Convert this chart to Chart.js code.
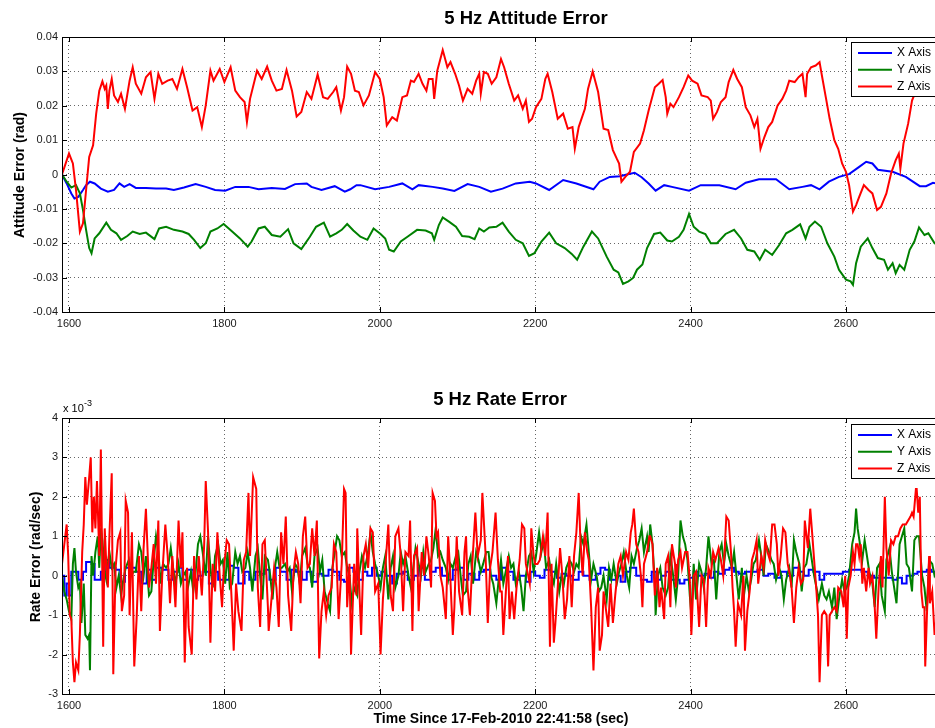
<!DOCTYPE html>
<html>
<head>
<meta charset="utf-8">
<script src="https://cdn.jsdelivr.net/npm/chart.js@4.4.0/dist/chart.umd.min.js"></script>
<style>
  html, body { margin: 0; padding: 0; background: #fff; overflow: hidden; width: 935px; height: 728px; }
  .box { position: absolute; left: 0; }
</style>
</head>
<body>
<div class="box" style="top:0"><canvas id="att" width="945" height="345"></canvas></div>
<div class="box" style="top:370px"><canvas id="rate" width="945" height="358"></canvas></div>
<script>
// x ticks shared by both plots
const timeTicks = [1600, 1800, 2000, 2200, 2400, 2600];

// top plot: attitude error (rad), [time, value]
const attX = [[1591,0],[1597,-0.0026],[1603,-0.0055],[1607,-0.0070],[1612,-0.0065],[1618,-0.0045],[1622,-0.0031],[1627,-0.0021],[1633,-0.0026],[1641,-0.0041],[1650,-0.0050],[1658,-0.0045],[1665,-0.0026],[1671,-0.0036],[1678,-0.0028],[1686,-0.0039],[1699,-0.0039],[1712,-0.0041],[1725,-0.0041],[1735,-0.0045],[1748,-0.0038],[1763,-0.0028],[1776,-0.0036],[1788,-0.0045],[1801,-0.0047],[1814,-0.0036],[1831,-0.0036],[1844,-0.0043],[1861,-0.0039],[1878,-0.0042],[1891,-0.0028],[1906,-0.0026],[1912,-0.0036],[1925,-0.0045],[1942,-0.0034],[1955,-0.0050],[1962,-0.0043],[1970,-0.0031],[1975,-0.0031],[1994,-0.0043],[2012,-0.0036],[2029,-0.0026],[2042,-0.0043],[2050,-0.0031],[2068,-0.0036],[2081,-0.0041],[2096,-0.0048],[2113,-0.0028],[2128,-0.0036],[2143,-0.0050],[2158,-0.0041],[2175,-0.0026],[2193,-0.0021],[2201,-0.0026],[2218,-0.0045],[2236,-0.0016],[2253,-0.0026],[2275,-0.0043],[2283,-0.0021],[2296,-0.0007],[2309,-0.0005],[2318,0.0000],[2328,0.0005],[2337,-0.0008],[2346,-0.0026],[2355,-0.0047],[2366,-0.0031],[2376,-0.0036],[2398,-0.0047],[2413,-0.0031],[2437,-0.0031],[2458,-0.0043],[2471,-0.0024],[2488,-0.0014],[2510,-0.0014],[2527,-0.0043],[2544,-0.0036],[2555,-0.0031],[2566,-0.0043],[2578,-0.0021],[2591,-0.0007],[2604,0.0001],[2617,0.0022],[2626,0.0037],[2634,0.0032],[2641,0.0014],[2660,0.0008],[2677,-0.0007],[2695,-0.0034],[2703,-0.0034],[2712,-0.0024],[2720,-0.0028]];
const attY = [[1591,0],[1597,-0.0021],[1603,-0.0038],[1609,-0.0031],[1614,-0.0055],[1618,-0.0103],[1622,-0.0161],[1626,-0.0214],[1629,-0.0229],[1633,-0.0186],[1639,-0.0171],[1648,-0.0140],[1654,-0.0161],[1661,-0.0171],[1667,-0.0190],[1675,-0.0179],[1682,-0.0166],[1691,-0.0173],[1699,-0.0169],[1710,-0.0188],[1716,-0.0157],[1725,-0.0152],[1735,-0.0161],[1746,-0.0166],[1754,-0.0173],[1761,-0.0190],[1769,-0.0214],[1776,-0.0200],[1782,-0.0166],[1791,-0.0157],[1799,-0.0144],[1810,-0.0166],[1820,-0.0186],[1830,-0.0210],[1835,-0.0195],[1844,-0.0157],[1852,-0.0152],[1861,-0.0176],[1872,-0.0181],[1882,-0.0159],[1889,-0.0200],[1899,-0.0217],[1910,-0.0181],[1918,-0.0152],[1928,-0.0140],[1936,-0.0181],[1944,-0.0171],[1951,-0.0161],[1958,-0.0144],[1966,-0.0163],[1975,-0.0181],[1984,-0.0190],[1992,-0.0157],[2001,-0.0173],[2007,-0.0186],[2012,-0.0219],[2018,-0.0224],[2027,-0.0195],[2037,-0.0179],[2048,-0.0161],[2059,-0.0163],[2067,-0.0171],[2070,-0.0190],[2076,-0.0147],[2081,-0.0125],[2089,-0.0137],[2098,-0.0152],[2106,-0.0179],[2115,-0.0181],[2122,-0.0188],[2128,-0.0157],[2134,-0.0166],[2141,-0.0154],[2150,-0.0152],[2158,-0.0140],[2166,-0.0166],[2175,-0.0190],[2184,-0.0200],[2192,-0.0237],[2199,-0.0229],[2208,-0.0195],[2218,-0.0169],[2227,-0.0200],[2238,-0.0214],[2247,-0.0231],[2254,-0.0248],[2262,-0.0210],[2273,-0.0166],[2281,-0.0186],[2292,-0.0239],[2301,-0.0277],[2307,-0.0285],[2313,-0.0318],[2320,-0.0311],[2326,-0.0301],[2331,-0.0277],[2338,-0.0262],[2344,-0.0214],[2353,-0.0173],[2361,-0.0169],[2370,-0.0192],[2376,-0.0195],[2385,-0.0181],[2391,-0.0161],[2398,-0.0115],[2404,-0.0152],[2411,-0.0166],[2419,-0.0173],[2426,-0.0200],[2434,-0.0200],[2445,-0.0173],[2456,-0.0161],[2465,-0.0186],[2473,-0.0219],[2482,-0.0224],[2489,-0.0248],[2496,-0.0219],[2505,-0.0234],[2514,-0.0205],[2523,-0.0171],[2531,-0.0161],[2541,-0.0145],[2548,-0.0186],[2553,-0.0152],[2560,-0.0137],[2568,-0.0152],[2576,-0.0200],[2585,-0.0239],[2591,-0.0277],[2600,-0.0306],[2606,-0.0311],[2609,-0.0321],[2613,-0.0258],[2619,-0.0210],[2628,-0.0186],[2634,-0.0214],[2641,-0.0243],[2649,-0.0248],[2654,-0.0277],[2660,-0.0258],[2664,-0.0287],[2669,-0.0263],[2675,-0.0277],[2682,-0.0219],[2688,-0.0195],[2694,-0.0154],[2701,-0.0176],[2706,-0.0171],[2714,-0.0200],[2720,-0.0195]];
const attZ = [[1591,0],[1600,0.0061],[1605,0.0032],[1609,-0.0045],[1614,-0.0166],[1618,-0.0142],[1622,-0.0045],[1626,0.0051],[1631,0.0085],[1635,0.0177],[1639,0.0244],[1643,0.0271],[1646,0.0249],[1648,0.0259],[1650,0.0191],[1652,0.0244],[1655,0.0278],[1658,0.0230],[1663,0.0211],[1667,0.0235],[1672,0.0191],[1678,0.0273],[1682,0.0312],[1686,0.0264],[1693,0.0235],[1699,0.0283],[1705,0.0298],[1710,0.0220],[1715,0.0293],[1720,0.0264],[1727,0.0273],[1733,0.0278],[1739,0.0249],[1746,0.0307],[1752,0.0254],[1759,0.0186],[1765,0.0196],[1771,0.0138],[1776,0.0201],[1782,0.0302],[1786,0.0273],[1794,0.0307],[1800,0.0269],[1808,0.0312],[1814,0.0244],[1820,0.0225],[1826,0.0211],[1829,0.0153],[1833,0.0220],[1842,0.0302],[1848,0.0278],[1855,0.0314],[1861,0.0273],[1867,0.0244],[1874,0.0249],[1880,0.0304],[1887,0.0244],[1893,0.0169],[1899,0.0182],[1906,0.0240],[1912,0.0220],[1920,0.0291],[1927,0.0225],[1933,0.0220],[1940,0.0240],[1944,0.0254],[1950,0.0186],[1954,0.0225],[1958,0.0314],[1963,0.0293],[1968,0.0244],[1973,0.0240],[1979,0.0201],[1986,0.0230],[1994,0.0298],[2000,0.0278],[2005,0.0225],[2009,0.0143],[2016,0.0167],[2022,0.0157],[2029,0.0225],[2035,0.0230],[2040,0.0273],[2044,0.0269],[2050,0.0293],[2055,0.0264],[2060,0.0244],[2063,0.0278],[2068,0.0278],[2070,0.0220],[2074,0.0302],[2081,0.0362],[2087,0.0312],[2091,0.0327],[2097,0.0293],[2102,0.0259],[2107,0.0215],[2113,0.0249],[2119,0.0235],[2124,0.0273],[2128,0.0293],[2130,0.0235],[2134,0.0298],[2139,0.0293],[2144,0.0264],[2150,0.0283],[2156,0.0336],[2160,0.0312],[2166,0.0264],[2173,0.0215],[2178,0.0230],[2184,0.0191],[2188,0.0215],[2192,0.0153],[2196,0.0162],[2201,0.0196],[2208,0.0220],[2213,0.0278],[2216,0.0293],[2222,0.0240],[2229,0.0162],[2236,0.0177],[2242,0.0133],[2248,0.0138],[2251,0.0075],[2256,0.0138],[2264,0.0191],[2268,0.0249],[2274,0.0300],[2281,0.0240],[2288,0.0133],[2294,0.0129],[2300,0.0071],[2305,0.0046],[2308,0.0032],[2311,-0.0021],[2316,-0.0007],[2322,0.0008],[2327,0.0066],[2335,0.0090],[2340,0.0129],[2346,0.0186],[2354,0.0254],[2359,0.0264],[2364,0.0275],[2368,0.0225],[2370,0.0177],[2374,0.0206],[2378,0.0196],[2385,0.0225],[2391,0.0254],[2397,0.0288],[2402,0.0273],[2409,0.0264],[2414,0.0230],[2422,0.0225],[2426,0.0215],[2429,0.0162],[2434,0.0182],[2439,0.0211],[2445,0.0225],[2449,0.0269],[2455,0.0304],[2460,0.0278],[2466,0.0254],[2471,0.0196],[2477,0.0172],[2482,0.0138],[2486,0.0162],[2490,0.0075],[2495,0.0109],[2500,0.0138],[2505,0.0153],[2512,0.0201],[2518,0.0220],[2523,0.0244],[2527,0.0273],[2534,0.0269],[2539,0.0283],[2544,0.0293],[2548,0.0225],[2550,0.0293],[2555,0.0312],[2561,0.0317],[2566,0.0327],[2569,0.0288],[2574,0.0225],[2579,0.0162],[2585,0.0100],[2590,0.0075],[2595,0.0032],[2600,0.0008],[2604,-0.0031],[2609,-0.0108],[2613,-0.0089],[2617,-0.0065],[2623,-0.0031],[2629,-0.0045],[2634,-0.0055],[2640,-0.0103],[2645,-0.0094],[2652,-0.0055],[2658,0.0003],[2664,0.0042],[2668,0.0061],[2670,0.0017],[2674,0.0090],[2680,0.0148],[2685,0.0215],[2690,0.0244],[2698,0.0280],[2706,0.0300],[2712,0.0285],[2716,0.0220],[2720,0.0196]];

// bottom plot: rate error (x 10^-3 rad/sec), [time, value]
const rateX = [[1591,0.0],[1594,-0.5],[1597,-0.2],[1600,-0.5],[1603,0.1],[1607,0.1],[1612,-0.1],[1618,0.1],[1622,0.35],[1629,0.3],[1633,-0.1],[1637,-0.1],[1641,0.1],[1648,0.4],[1652,0.2],[1660,0.15],[1666,-0.15],[1672,0.2],[1680,0.2],[1686,0.1],[1693,-0.2],[1700,0.15],[1706,-0.1],[1712,0.2],[1720,0.15],[1728,-0.1],[1734,0.1],[1740,0.2],[1746,-0.1],[1752,0.15],[1760,-0.1],[1766,0.0],[1772,0.1],[1780,-0.2],[1786,0.1],[1792,-0.1],[1800,-0.1],[1806,0.25],[1812,0.2],[1818,-0.2],[1826,0.1],[1832,-0.1],[1840,0.1],[1846,0.05],[1852,0.15],[1858,-0.1],[1866,0.2],[1872,0.1],[1880,-0.1],[1886,0.15],[1892,0.1],[1900,-0.1],[1906,0.1],[1912,-0.15],[1920,0.05],[1926,0.0],[1934,0.15],[1940,0.1],[1948,-0.1],[1954,-0.15],[1960,0.2],[1966,0.1],[1972,-0.1],[1978,0.1],[1984,0.0],[1990,0.2],[1996,0.0],[2002,0.1],[2008,0.0],[2016,-0.2],[2022,0.05],[2030,0.1],[2036,-0.1],[2044,0.0],[2050,0.2],[2058,-0.1],[2066,0.1],[2072,0.2],[2080,0.0],[2088,-0.1],[2094,0.15],[2100,0.2],[2108,-0.1],[2114,0.05],[2122,-0.1],[2128,0.1],[2134,0.15],[2142,0.0],[2150,-0.1],[2156,0.2],[2164,0.1],[2172,-0.1],[2180,0.0],[2188,-0.15],[2194,0.1],[2200,0.0],[2206,-0.05],[2212,0.15],[2220,0.1],[2228,-0.05],[2234,0.05],[2240,0.0],[2248,-0.1],[2256,0.1],[2262,0.0],[2270,-0.1],[2278,0.05],[2284,0.2],[2290,0.15],[2296,-0.1],[2304,0.0],[2310,-0.15],[2316,0.1],[2322,0.2],[2330,0.0],[2336,-0.1],[2344,-0.15],[2350,0.1],[2356,-0.1],[2362,0.0],[2368,0.1],[2374,-0.1],[2380,-0.1],[2386,-0.2],[2392,-0.1],[2398,-0.05],[2404,0.1],[2410,0.0],[2418,0.05],[2424,-0.05],[2430,0.1],[2436,0.05],[2444,0.15],[2450,0.2],[2456,0.1],[2462,0.05],[2470,0.1],[2478,0.1],[2486,0.15],[2494,0.0],[2500,0.05],[2508,-0.05],[2516,0.1],[2524,0.0],[2532,0.2],[2540,0.1],[2546,0.0],[2552,0.15],[2558,0.1],[2566,-0.1],[2572,0.05],[2580,0.05],[2588,0.05],[2596,0.1],[2604,0.15],[2612,0.15],[2620,0.1],[2628,0.0],[2636,-0.05],[2644,-0.05],[2652,-0.05],[2660,-0.1],[2666,-0.05],[2672,-0.2],[2678,0.0],[2686,0.05],[2692,0.1],[2698,0.1],[2704,0.15],[2710,0.1],[2720,0.1]];
const rateY = [[1591,0.0],[1594,-0.4],[1597,-0.6],[1600,-0.9],[1603,-1.1],[1605,0.3],[1607,0.7],[1609,0.1],[1612,-0.3],[1614,-0.2],[1616,-1.2],[1619,-0.2],[1621,-1.5],[1624,-1.6],[1626,-1.5],[1627,-2.4],[1629,0.5],[1631,0.0],[1634,0.6],[1637,1.0],[1639,0.2],[1641,1.2],[1643,0.9],[1646,0.1],[1648,-0.1],[1650,0.3],[1652,0.6],[1655,0.2],[1658,0.3],[1661,-0.3],[1664,0.0],[1667,-0.5],[1670,-0.1],[1673,0.2],[1677,0.4],[1680,0.0],[1683,0.1],[1686,0.1],[1690,0.8],[1693,0.6],[1696,0.0],[1699,0.5],[1703,-0.5],[1706,-0.4],[1709,0.4],[1712,1.0],[1715,0.6],[1718,-0.2],[1721,0.3],[1725,0.2],[1728,0.3],[1731,0.7],[1734,0.2],[1737,-0.2],[1741,0.3],[1744,-0.2],[1747,0.0],[1750,0.1],[1753,-0.3],[1757,0.1],[1760,-0.4],[1763,0.1],[1766,0.8],[1769,1.0],[1772,0.6],[1776,0.0],[1779,1.0],[1782,0.2],[1785,-0.3],[1788,0.5],[1792,0.8],[1795,0.3],[1798,0.4],[1801,-0.2],[1804,0.6],[1807,-0.3],[1810,-0.2],[1814,0.6],[1817,0.3],[1820,0.5],[1823,0.1],[1827,0.2],[1830,0.6],[1833,0.2],[1836,-0.4],[1840,0.5],[1843,0.7],[1846,0.0],[1849,-0.6],[1852,0.5],[1856,0.4],[1859,0.0],[1862,-0.6],[1865,0.2],[1868,0.6],[1871,0.2],[1874,0.2],[1878,0.3],[1881,0.1],[1884,0.2],[1887,-0.4],[1891,0.3],[1894,0.2],[1897,-0.2],[1900,0.5],[1904,0.7],[1907,0.3],[1910,0.2],[1913,-0.3],[1916,0.5],[1920,0.7],[1923,0.1],[1926,0.4],[1929,-0.4],[1933,-0.7],[1936,-0.9],[1939,0.2],[1942,0.6],[1945,1.0],[1948,0.9],[1951,0.5],[1955,0.6],[1958,0.2],[1961,0.0],[1964,-0.7],[1967,-0.3],[1971,-0.5],[1973,0.0],[1977,0.5],[1981,0.2],[1985,0.6],[1988,1.1],[1991,0.6],[1994,0.3],[1998,0.0],[2001,-0.3],[2004,0.2],[2007,0.5],[2011,-0.6],[2014,0.2],[2017,0.5],[2020,-0.3],[2024,0.0],[2027,0.6],[2030,0.3],[2033,0.5],[2037,0.0],[2040,-0.3],[2043,0.2],[2046,0.7],[2050,0.3],[2053,0.0],[2056,0.6],[2059,0.1],[2063,0.3],[2066,0.4],[2069,0.7],[2072,1.2],[2075,0.5],[2078,0.6],[2081,0.4],[2085,0.2],[2088,-0.1],[2091,0.3],[2094,0.2],[2098,0.5],[2101,0.6],[2104,0.0],[2107,-0.5],[2111,-0.4],[2114,0.3],[2117,0.5],[2120,-0.2],[2124,0.6],[2127,0.4],[2130,0.1],[2133,0.3],[2137,0.6],[2140,0.6],[2143,0.0],[2146,-0.2],[2150,-0.7],[2153,-0.1],[2156,0.4],[2159,-0.2],[2163,0.2],[2166,0.5],[2169,0.2],[2172,0.3],[2175,-0.2],[2179,0.1],[2182,-0.3],[2185,-0.9],[2188,0.0],[2192,0.5],[2195,0.6],[2198,0.1],[2201,0.5],[2205,1.1],[2208,0.6],[2211,0.9],[2214,0.2],[2218,0.4],[2221,0.0],[2224,-0.2],[2227,0.3],[2231,-0.4],[2234,0.0],[2237,-0.2],[2240,0.2],[2244,0.4],[2247,0.3],[2250,0.1],[2253,0.3],[2256,0.2],[2259,1.0],[2262,0.8],[2266,1.3],[2269,0.6],[2272,-0.1],[2275,0.3],[2279,0.0],[2282,-0.4],[2285,-0.3],[2288,0.0],[2292,-0.6],[2295,0.2],[2298,-0.1],[2301,0.3],[2305,-0.2],[2308,0.1],[2311,0.3],[2314,0.6],[2318,0.0],[2321,-0.3],[2324,0.5],[2327,0.3],[2331,0.7],[2334,0.9],[2337,1.2],[2340,0.6],[2344,1.0],[2346,0.6],[2348,1.3],[2351,0.8],[2354,-0.2],[2355,-1.0],[2358,0.0],[2361,0.2],[2364,-0.3],[2368,-0.5],[2371,-0.3],[2374,0.5],[2377,0.1],[2381,-0.6],[2384,0.0],[2387,1.4],[2390,1.0],[2393,0.8],[2396,0.4],[2399,-0.5],[2401,-1.0],[2404,0.3],[2407,-0.6],[2411,0.3],[2414,0.1],[2417,-0.3],[2420,0.2],[2423,1.0],[2427,0.3],[2430,0.4],[2433,-0.6],[2437,0.6],[2440,0.8],[2443,0.3],[2446,0.8],[2449,0.5],[2453,0.2],[2456,0.6],[2459,0.0],[2462,-0.6],[2466,0.2],[2468,-0.6],[2472,0.0],[2475,-0.4],[2478,-0.1],[2481,0.3],[2484,0.4],[2488,0.9],[2491,0.5],[2494,0.0],[2497,0.8],[2501,0.6],[2504,0.4],[2507,0.3],[2510,-0.1],[2514,0.2],[2517,0.0],[2520,-0.6],[2523,-0.1],[2527,0.2],[2530,-0.3],[2533,0.9],[2536,0.6],[2540,0.3],[2543,-0.4],[2546,0.2],[2549,0.3],[2553,0.8],[2556,0.4],[2559,0.0],[2562,-0.3],[2565,-0.6],[2569,-0.2],[2572,-0.5],[2575,-0.6],[2578,-0.4],[2582,-0.8],[2585,-0.3],[2588,-1.1],[2591,-0.6],[2595,-0.1],[2598,-0.4],[2601,-0.3],[2604,0.0],[2608,0.8],[2611,1.1],[2613,1.7],[2615,1.2],[2618,0.8],[2621,0.4],[2624,0.9],[2627,0.5],[2630,0.1],[2634,-0.2],[2637,-0.8],[2640,0.2],[2643,0.3],[2646,-0.5],[2650,-0.9],[2652,0.4],[2656,0.7],[2659,0.1],[2662,-0.3],[2665,-0.7],[2669,0.8],[2672,1.0],[2675,1.2],[2678,0.3],[2681,0.2],[2685,-0.4],[2688,0.9],[2691,1.0],[2694,1.0],[2698,0.0],[2701,-0.3],[2704,-0.9],[2707,0.4],[2711,0.3],[2714,0.0],[2720,0.2]];
const rateZ = [[1591,0.3],[1594,0.8],[1597,1.3],[1599,0.5],[1601,-1.0],[1603,-1.1],[1605,-2.2],[1607,-2.7],[1609,-2.2],[1612,-2.4],[1614,-1.5],[1617,0.6],[1619,1.3],[1621,2.5],[1623,1.8],[1626,2.5],[1628,3.0],[1630,1.1],[1632,2.0],[1634,1.2],[1636,2.4],[1639,0.5],[1641,3.2],[1644,-1.8],[1646,1.2],[1648,0.3],[1650,-0.3],[1652,1.0],[1655,2.6],[1657,-2.5],[1660,0.2],[1663,0.9],[1666,1.1],[1668,-0.9],[1671,-0.5],[1673,1.9],[1676,1.6],[1678,-1.0],[1681,1.1],[1684,-2.3],[1687,-1.1],[1690,0.5],[1693,-0.9],[1696,0.7],[1699,1.7],[1703,-0.3],[1706,0.2],[1709,0.8],[1712,-0.2],[1715,1.4],[1717,-1.4],[1720,0.0],[1724,1.3],[1727,0.5],[1730,-0.7],[1733,0.5],[1737,-0.8],[1741,1.4],[1744,0.2],[1746,1.1],[1749,-2.2],[1752,0.2],[1754,-1.3],[1758,-2.0],[1761,0.5],[1764,-0.6],[1767,0.5],[1771,-0.5],[1774,0.8],[1776,2.4],[1779,1.1],[1782,-1.7],[1785,0.3],[1788,-0.4],[1791,1.1],[1794,0.0],[1797,-0.8],[1799,0.1],[1803,0.9],[1806,0.8],[1810,-0.9],[1812,-1.9],[1815,-0.2],[1818,-0.9],[1822,-1.4],[1825,0.4],[1828,0.6],[1831,2.1],[1833,0.5],[1837,2.5],[1841,2.2],[1843,-0.3],[1846,-1.3],[1849,0.8],[1852,0.9],[1856,-0.8],[1857,-1.4],[1861,-0.5],[1864,0.2],[1867,-0.3],[1870,-1.3],[1873,1.1],[1876,0.3],[1879,1.5],[1882,-0.5],[1886,-1.4],[1889,0.1],[1892,0.6],[1895,0.3],[1898,-0.7],[1901,1.0],[1904,1.5],[1907,0.2],[1910,0.3],[1913,1.2],[1916,0.5],[1919,1.4],[1922,-2.1],[1925,-0.9],[1928,-0.4],[1931,-1.0],[1934,-0.5],[1938,-0.3],[1941,0.8],[1944,0.6],[1947,-1.1],[1951,0.3],[1954,2.2],[1956,2.1],[1958,-0.8],[1961,0.3],[1963,-2.0],[1967,0.3],[1970,-0.5],[1971,1.2],[1974,-0.5],[1976,-1.5],[1979,0.5],[1982,0.8],[1985,0.2],[1988,1.2],[1991,1.1],[1994,-0.4],[1998,-0.2],[2001,-2.0],[2004,-0.6],[2007,0.2],[2011,1.3],[2014,-0.5],[2017,-0.9],[2020,1.0],[2024,1.2],[2027,0.5],[2030,-0.9],[2033,0.6],[2037,0.5],[2039,1.4],[2042,-1.4],[2044,0.5],[2048,0.7],[2050,-0.9],[2054,0.6],[2057,0.0],[2060,1.0],[2063,0.5],[2066,-0.3],[2068,2.1],[2071,1.9],[2073,1.0],[2075,1.1],[2078,0.0],[2081,-0.3],[2085,-1.1],[2088,1.0],[2090,0.3],[2094,-1.5],[2096,-0.8],[2099,1.0],[2102,-0.4],[2106,-1.0],[2109,0.6],[2111,1.0],[2113,-0.3],[2116,-1.0],[2119,0.3],[2123,1.6],[2126,0.5],[2128,0.7],[2130,0.9],[2132,2.1],[2136,0.6],[2139,-1.2],[2142,0.2],[2145,0.6],[2149,1.6],[2152,0.4],[2155,-0.4],[2157,-0.4],[2159,-1.5],[2162,-0.5],[2165,0.5],[2167,-1.1],[2170,-0.4],[2173,-1.1],[2176,-0.3],[2180,0.4],[2183,1.3],[2186,1.2],[2188,0.3],[2193,-0.2],[2195,1.2],[2198,0.5],[2200,0.3],[2203,0.3],[2206,0.4],[2210,1.0],[2213,0.5],[2216,1.6],[2219,-1.8],[2221,0.3],[2224,-1.7],[2226,-1.2],[2229,-0.3],[2232,0.7],[2235,0.0],[2238,-1.1],[2241,-0.6],[2244,0.5],[2247,-0.8],[2250,0.5],[2253,1.1],[2256,2.1],[2258,1.0],[2261,0.0],[2264,1.1],[2267,0.6],[2269,0.4],[2272,-0.8],[2275,-2.4],[2278,-0.8],[2281,-0.3],[2283,-1.9],[2286,-1.5],[2288,-0.4],[2292,-1.0],[2294,-1.3],[2297,-0.2],[2300,-1.2],[2303,-0.5],[2307,0.3],[2310,0.5],[2313,0.0],[2317,0.6],[2320,0.4],[2323,1.1],[2325,1.3],[2327,1.7],[2330,0.8],[2333,0.6],[2336,0.0],[2338,-0.8],[2340,0.3],[2344,0.6],[2347,1.0],[2348,1.0],[2351,0.8],[2354,-0.5],[2357,0.2],[2360,-0.8],[2362,-0.3],[2366,-1.1],[2368,0.3],[2371,0.5],[2374,-0.8],[2376,0.8],[2380,0.3],[2381,-0.3],[2384,0.4],[2387,0.6],[2389,0.2],[2393,0.6],[2396,0.6],[2399,-0.1],[2401,-1.5],[2404,0.0],[2407,0.1],[2411,-1.3],[2414,0.0],[2417,-0.1],[2420,-1.3],[2423,0.2],[2426,0.0],[2429,0.6],[2432,0.4],[2436,0.7],[2439,0.4],[2442,0.0],[2444,0.7],[2446,1.5],[2449,1.4],[2452,0.6],[2454,-0.3],[2456,-0.9],[2458,-1.8],[2461,-0.7],[2465,-1.0],[2468,0.0],[2470,-1.9],[2473,-0.9],[2476,-0.4],[2479,0.4],[2482,0.6],[2485,0.9],[2487,-0.2],[2491,0.5],[2494,0.2],[2496,0.9],[2499,0.6],[2502,0.4],[2505,1.3],[2508,1.3],[2511,0.8],[2513,0.0],[2516,0.5],[2519,1.2],[2522,1.1],[2525,0.3],[2528,0.0],[2530,-0.3],[2533,-1.2],[2536,-0.3],[2539,0.2],[2542,-0.2],[2545,-0.1],[2547,1.4],[2551,0.7],[2554,1.7],[2556,1.2],[2559,0.4],[2562,-0.4],[2564,-1.0],[2566,-2.7],[2569,-1.0],[2572,-0.9],[2575,-1.0],[2577,-2.3],[2579,-1.0],[2582,-0.9],[2585,-0.8],[2588,-0.9],[2590,-0.3],[2594,-0.4],[2597,-0.8],[2599,0.0],[2601,-1.6],[2603,-0.3],[2606,0.0],[2609,0.6],[2611,0.3],[2613,0.8],[2615,0.8],[2617,0.5],[2619,0.8],[2621,-0.2],[2623,0.2],[2626,-0.4],[2629,0.2],[2631,-0.2],[2634,0.0],[2637,-0.8],[2639,-1.6],[2642,-0.3],[2645,0.5],[2647,-0.3],[2650,2.0],[2652,0.7],[2655,0.0],[2658,0.9],[2661,0.8],[2664,1.0],[2667,1.0],[2670,1.2],[2673,1.3],[2677,1.3],[2680,1.4],[2683,1.5],[2685,1.6],[2687,1.5],[2690,2.2],[2691,2.2],[2693,1.6],[2695,2.0],[2697,-0.4],[2699,-0.8],[2701,-0.8],[2702,-2.3],[2704,-1.1],[2707,0.5],[2708,-0.7],[2711,-0.4],[2714,-1.5],[2718,-0.8],[2721,-1.4]];

const seriesNames = ['X Axis', 'Y Axis', 'Z Axis'];
const seriesColors = ['#0000ff', '#008000', '#ff0000'];

const toXY = (pairs) => pairs.map(p => ({x: p[0], y: p[1]}));

// matlab style frame: box, inward ticks, legend and free text
const matlabFrame = {
    id: 'matlabFrame',
    afterDraw(chart, args, opts) {
        const ctx = chart.ctx;
        const a = chart.chartArea;
        ctx.save();
        ctx.strokeStyle = '#000';
        ctx.lineWidth = 1;
        ctx.strokeRect(Math.round(a.left) + 0.5, Math.round(a.top) + 0.5, Math.round(a.right - a.left), Math.round(a.bottom - a.top));

        // inward ticks
        ctx.beginPath();
        chart.scales.x.ticks.forEach(t => {
            const px = Math.round(chart.scales.x.getPixelForValue(t.value)) + 0.5;
            ctx.moveTo(px, a.bottom); ctx.lineTo(px, a.bottom - 5);
            ctx.moveTo(px, a.top); ctx.lineTo(px, a.top + 5);
        });
        chart.scales.y.ticks.forEach(t => {
            const py = Math.round(chart.scales.y.getPixelForValue(t.value)) + 0.5;
            ctx.moveTo(a.left, py); ctx.lineTo(a.left + 5, py);
        });
        ctx.stroke();

        // legend box
        const lg = opts.legend;
        ctx.fillStyle = '#fff';
        ctx.fillRect(lg.x, lg.y, lg.w, lg.h);
        ctx.strokeRect(lg.x + 0.5, lg.y + 0.5, lg.w, lg.h);
        ctx.font = '12px "Liberation Sans", Arial, sans-serif';
        ctx.textBaseline = 'middle';
        chart.data.datasets.forEach((ds, i) => {
            const y = lg.y + 11 + i * 16.7;
            ctx.strokeStyle = ds.borderColor;
            ctx.lineWidth = 2;
            ctx.beginPath();
            ctx.moveTo(lg.x + 7, y); ctx.lineTo(lg.x + 41, y);
            ctx.stroke();
            ctx.fillStyle = '#000';
            ctx.fillText(ds.label, lg.x + 46, y);
        });

        // titles and axis labels
        (opts.texts || []).forEach(t => {
            ctx.save();
            ctx.font = t.font;
            ctx.fillStyle = '#000';
            ctx.textAlign = t.align || 'center';
            ctx.textBaseline = 'middle';
            ctx.translate(t.x, t.y);
            if (t.rotate) ctx.rotate(t.rotate);
            ctx.fillText(t.text, 0, 0);
            ctx.restore();
        });
        ctx.restore();
    }
};

const makeChart = (id, sets, yOpts, frame, pad, stepFirst) => {
    const tickFont = {family: '"Liberation Sans", Arial, sans-serif', size: 11};
    return new Chart(document.getElementById(id), {
        type: 'line',
        data: {
            datasets: sets.map((s, i) => ({
                label: seriesNames[i],
                data: toXY(s),
                borderColor: seriesColors[i],
                borderWidth: 2,
                pointRadius: 0,
                fill: false,
                tension: 0,
                stepped: (stepFirst && i === 0) ? 'before' : false,
                order: 3 - i
            }))
        },
        options: {
            responsive: false,
            animation: false,
            events: [],
            layout: {padding: pad},
            plugins: {
                legend: {display: false},
                tooltip: {enabled: false},
                title: {display: false},
                matlabFrame: frame
            },
            scales: {
                x: {
                    type: 'linear',
                    min: 1591,
                    max: 2721,
                    afterBuildTicks: (scale) => { scale.ticks = timeTicks.map(v => ({value: v})); },
                    afterFit: (scale) => { scale.height = 20; },
                    grid: {color: 'rgba(0,0,0,0.6)', drawTicks: false, lineWidth: 1},
                    border: {display: false, dash: [1, 3]},
                    ticks: {font: tickFont, color: '#1a1a1a', padding: 5, maxRotation: 0, autoSkip: false,
                        callback: (v) => String(v)}
                },
                y: Object.assign({
                    type: 'linear',
                    afterFit: (scale) => { scale.width = 62; },
                    grid: {color: 'rgba(0,0,0,0.6)', drawTicks: false, lineWidth: 1},
                    border: {display: false, dash: [1, 3]},
                    ticks: {font: tickFont, color: '#1a1a1a', padding: 4}
                }, yOpts)
            }
        },
        plugins: [matlabFrame]
    });
};

const titleFont = 'bold 18.5px "Liberation Sans", Arial, sans-serif';
const labelFont = 'bold 14px "Liberation Sans", Arial, sans-serif';

makeChart('att', [attX, attY, attZ], {
    min: -0.04, max: 0.04,
    ticks: {
        stepSize: 0.01,
        font: {family: '"Liberation Sans", Arial, sans-serif', size: 11},
        color: '#1a1a1a', padding: 4,
        callback: (v) => String(Number(v.toFixed(2)))
    }
}, {
    legend: {x: 851, y: 42, w: 90, h: 54},
    texts: [
        {text: '5 Hz Attitude Error', x: 526, y: 19, font: titleFont},
        {text: 'Attitude Error (rad)', x: 20, y: 175, font: labelFont, rotate: -Math.PI / 2}
    ]
}, {left: 0, top: 37, right: 5, bottom: 13}, false);

makeChart('rate', [rateX, rateY, rateZ], {
    min: -3, max: 4,
    ticks: {
        stepSize: 1,
        font: {family: '"Liberation Sans", Arial, sans-serif', size: 11},
        color: '#1a1a1a', padding: 4
    }
}, {
    legend: {x: 851, y: 54, w: 90, h: 54},
    texts: [
        {text: '5 Hz Rate Error', x: 500, y: 30, font: titleFont},
        {text: 'Rate Error (rad/sec)', x: 36, y: 187, font: labelFont, rotate: -Math.PI / 2},
        {text: 'Time Since 17-Feb-2010 22:41:58 (sec)', x: 501, y: 349, font: labelFont},
        {text: 'x 10', x: 63, y: 39, font: '11px "Liberation Sans", Arial, sans-serif', align: 'left'},
        {text: '-3', x: 84, y: 34, font: '9px "Liberation Sans", Arial, sans-serif', align: 'left'}
    ]
}, {left: 0, top: 48, right: 5, bottom: 14}, true);
</script>
</body>
</html>
